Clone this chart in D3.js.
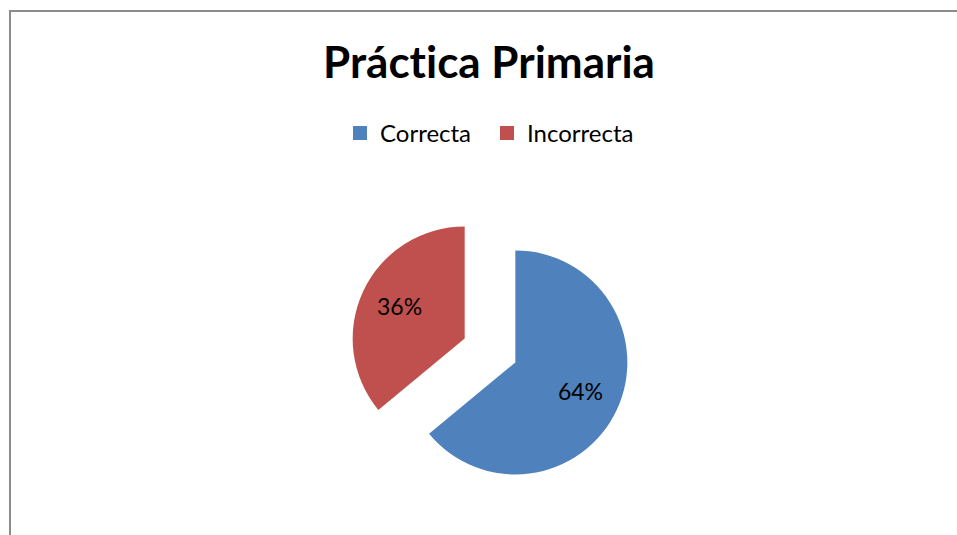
<!DOCTYPE html>
<html>
<head>
<meta charset="utf-8">
<script src="https://cdn.jsdelivr.net/npm/d3@7"></script>
<style>
  body { margin: 0; background: #fff; }
  text { font-family: Lato, "Open Sans", sans-serif; font-variant-ligatures: none; }
</style>
</head>
<body>
<div id="pie-chart"></div>
<script>
const categories = ["Correcta", "Incorrecta"];
const values = [64, 36];
const colors = ["#4F81BD", "#C0504D"];
const title = "Práctica Primaria";

const width = 957, height = 535;
const cx = 490, cy = 350.5, radius = 112, explode = 28, labelRadius = 72;

const svg = d3.select("#pie-chart")
  .append("svg")
  .attr("width", width)
  .attr("height", height);

// chart frame
svg.append("rect")
  .attr("x", 10).attr("y", 11)
  .attr("width", 1000).attr("height", 600)
  .attr("fill", "#fff")
  .attr("stroke", "#8c8c8c")
  .attr("stroke-width", 2);

svg.append("text")
  .attr("x", 489).attr("y", 78)
  .attr("text-anchor", "middle")
  .attr("font-size", 44)
  .attr("font-weight", "bold")
  .attr("fill", "#000")
  .text(title);

// legend
const legend = svg.append("g").attr("class", "legend");
const legendX = [353, 500];
categories.forEach((c, i) => {
  const g = legend.append("g").attr("transform", `translate(${legendX[i]}, 126)`);
  g.append("rect").attr("width", 14).attr("height", 14).attr("fill", colors[i]);
  g.append("text")
    .attr("x", 27).attr("y", 16)
    .attr("font-size", 24)
    .attr("fill", "#000")
    .text(c);
});

const data = categories.map((c, i) => ({ label: c, value: values[i] }));
const pie = d3.pie().sort(null).value(d => d.value);
const arc = d3.arc().innerRadius(0).outerRadius(radius);
const labelArc = d3.arc().innerRadius(labelRadius).outerRadius(labelRadius);
const total = d3.sum(values);

const slices = svg.append("g")
  .attr("transform", `translate(${cx}, ${cy})`)
  .selectAll(".slice")
  .data(pie(data))
  .enter()
  .append("g")
  .attr("class", "slice")
  .attr("transform", d => {
    const a = (d.startAngle + d.endAngle) / 2;
    return `translate(${Math.sin(a) * explode}, ${-Math.cos(a) * explode})`;
  });

slices.append("path")
  .attr("d", arc)
  .attr("fill", (d, i) => colors[i]);

slices.append("text")
  .attr("transform", d => `translate(${labelArc.centroid(d)})`)
  .attr("text-anchor", "middle")
  .attr("dy", "0.3em")
  .attr("font-size", 23)
  .attr("fill", "#000")
  .text(d => Math.round(d.value / total * 100) + "%");
</script>
</body>
</html>
